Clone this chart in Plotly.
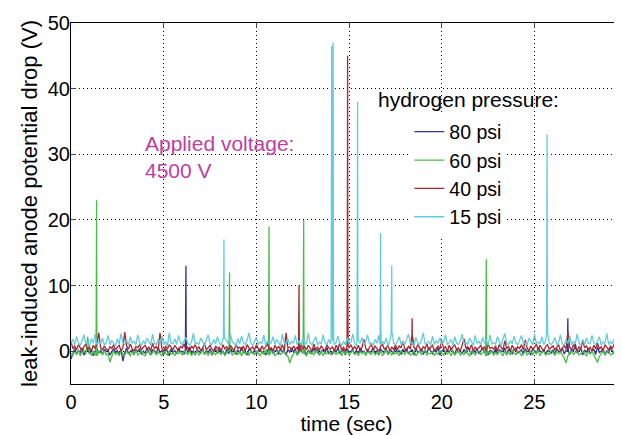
import plotly.graph_objects as go

# ---------------- data ----------------
dt = 0.1  # baseline sampling step (s)

base_80 = [
    -1.2, -0.3, 0.4, -0.5, 0.1, -0.2, 0.5, -0.6, 0.0, 0.3, -0.4, 0.2, -0.7, 0.0, 0.4, -0.3, 0.1, -0.5, 0.3, -0.1,
    0.2, -0.6, 0.0, 0.4, -0.3, 0.1, -0.5, 0.3, -1.5, -0.2, 0.5, -0.4, 0.0, 0.2, -0.6, 0.3, -0.1, 0.4, -0.5, 0.0,
    -0.3, 0.5, -0.1, -0.6, 0.2, 0.0, -0.4, 0.6, -0.2, 0.1, -0.5, 0.3, 0.0, -0.7, 0.4, -0.2, 0.1, -0.4, 0.5, -0.1,
    0.0, -0.5, 0.3, -0.2, 0.6, -0.4, 0.1, -0.6, 0.2, 0.0, -0.3, 0.5, -0.5, 0.1, -0.2, 0.4, -0.6, 0.0, 0.3, -0.3,
    0.4, -0.2, 0.0, -0.6, 0.3, -0.4, 0.5, -0.1, 0.0, -0.5, 0.2, -0.3, 0.6, -0.2, 0.0, -0.6, 0.3, 0.1, -0.4, 0.2,
    -0.5, 0.1, 0.4, -0.3, 0.0, -0.6, 0.3, -0.2, 0.5, -0.4, 0.0, 0.2, -0.5, 0.4, -0.1, 0.0, -0.6, 0.3, -0.2, 0.5,
    -0.1, 0.3, -0.5, 0.0, 0.4, -0.3, 0.2, -0.6, 0.1, 0.0, -0.4, 0.5, -0.2, 0.3, -0.6, 0.0, 0.2, -0.4, 0.6, -0.3,
    0.0, -0.5, 0.3, -0.1, 0.5, -0.4, 0.0, 0.2, -0.6, 0.4, -0.2, 0.0, 0.3, -0.5, 0.1, -0.3, 0.5, -0.1, 0.0, -0.6,
    0.3, -0.2, 0.0, 0.5, -0.4, 0.1, -0.6, 0.3, 0.0, -0.3, 0.4, -0.5, 0.2, 0.0, -0.4, 0.6, -0.2, 0.1, -0.5, 0.3,
    -0.1, 0.4, -0.4, 0.0, 0.2, -0.6, 0.5, -0.2, 0.0, 0.3, -0.5, 0.1, -0.3, 0.6, 0.0, -0.4, 0.2, -0.1, 0.5, -0.6,
    0.0, 0.3, -0.5, 0.2, -0.2, 0.5, 0.0, -0.6, 0.4, -0.1, 0.0, -0.4, 0.3, -0.3, 0.6, 0.0, -0.5, 0.2, -0.2, 0.4,
    -0.4, 0.0, 0.5, -0.2, 0.3, -0.6, 0.1, 0.0, -0.3, 0.4, -0.5, 0.2, 0.0, -0.1, 0.5, -0.6, 0.3, 0.0, -0.4, 0.2,
    0.5, -0.3, 0.0, 0.2, -0.5, 0.4, -0.1, 0.0, -0.6, 0.3, 0.1, -0.4, 0.6, 0.0, -0.2, 0.3, -0.5, 0.1, 0.0, -0.3,
    0.2, -0.6, 0.4, 0.0, -0.2, 0.5, -0.4, 0.1, 0.0, -0.5, 0.3, -0.1, 1.2, -0.3, 0.0, 0.4, -0.6, 0.2, -0.2, 0.5,
    -0.4, 0.0, 0.3, -0.5, 0.6, -0.2, 0.0, 0.4, -0.6, 0.1, -0.3, 0.5, 0.0, -0.4, 0.2, -0.1, 0.3, -0.5, 0.0, 0.4,
]

base_60 = [
    -0.3, -0.6, 0.0, -0.4, 0.2, -0.7, -0.2, 0.1, -0.5, 2.2, -0.3, -0.6, 0.0, -0.4, -0.7, 0.0, -0.2, -0.5, 0.1, -0.6,
    -0.3, -1.7, -0.8, 0.0, -0.5, -0.2, -0.7, 0.1, -0.4, -0.6, 0.0, -0.3, -0.7, -0.1, -0.5, 0.2, -0.6, -0.3, 0.0, -0.5,
    -0.7, -0.2, 0.0, -0.5, -0.3, 0.2, -0.6, -0.1, -0.4, -0.7, 0.0, -0.3, -0.6, 0.1, -0.5, -0.2, -0.7, 0.0, -0.4, -0.1,
    -0.6, 0.0, -0.3, -0.5, 0.1, -0.7, -0.2, -0.4, 0.0, -0.6, -0.3, 0.2, -0.5, -0.1, -0.7, 0.0, -0.4, -0.2, -0.6, 0.1,
    -0.3, -0.5, 0.0, -0.7, -0.2, -0.4, 0.1, -0.6, -0.3, 0.0, -0.5, -0.1, -0.7, 0.2, -0.4, -0.2, -0.6, 0.0, -0.3, -0.5,
    0.0, -0.4, -0.7, -0.1, -0.5, 0.2, -0.3, -0.6, 0.0, -0.2, -0.7, -0.4, 0.1, -0.5, -0.3, 0.0, -0.6, -0.8, -1.8, -0.9,
    -0.4, 0.0, -0.6, -0.2, 0.1, -0.5, -0.3, -0.7, 0.0, -0.4, -0.1, -0.6, 0.2, -0.3, -0.5, 0.0, -0.7, -0.2, -0.4, 0.1,
    -0.6, -0.2, 0.0, -0.5, -0.3, 0.2, -0.7, -0.1, -0.4, 0.0, -0.6, -0.3, 0.1, -0.5, -0.2, -0.7, 0.0, -0.4, -0.1, -0.6,
    0.0, -0.3, -0.5, 0.1, -0.6, -0.2, -0.4, 0.0, -0.7, -0.3, 0.2, -0.5, -0.1, -0.6, 0.0, -0.4, -0.2, -0.7, 0.1, -0.3,
    -0.5, 0.0, -0.2, -0.6, -0.4, 0.1, -0.7, -0.3, 0.0, -0.5, -0.1, 0.2, -0.6, -0.3, -0.4, 0.0, -0.7, -0.2, -0.5, 0.1,
    -0.3, -0.6, 0.0, -0.4, -0.1, -0.7, 0.2, -0.5, -0.2, 0.0, -0.6, -0.3, -0.5, 0.1, -0.4, -0.7, 0.0, -0.2, -0.6, -0.1,
    0.0, -0.5, -0.3, 0.2, -0.7, -0.1, -0.4, 0.0, -0.6, -0.2, -0.5, 0.1, -0.3, -0.7, 0.0, -0.4, -0.1, -0.6, 0.2, -0.3,
    -0.5, 0.0, -0.2, -0.7, -0.4, 0.1, -0.6, -0.3, 0.0, -0.5, -0.1, -0.4, 0.2, -0.7, -0.2, 0.0, -0.6, -0.3, -0.5, 0.1,
    -0.2, -0.6, 0.0, -0.4, -0.1, -0.5, -1.0, -1.8, -0.7, -0.3, 0.0, -0.5, -0.2, 0.1, -0.6, -0.4, 0.0, -0.3, -0.7, -0.1,
    -0.4, 0.0, -0.6, -1.2, -1.7, -0.8, -0.3, 0.0, -0.5, -0.2, 0.1, -0.6, -0.4, 0.0, -0.3, -0.7, -0.1, -0.5, 0.0, -0.4,
]

base_40 = [
    1.5, 0.4, 0.8, 0.2, 1.0, 0.5, 0.0, 0.7, 1.1, 0.3, 0.6, 0.0, 0.9, 0.4, 1.2, 2.8, 0.5, 0.2, 0.8, 0.3,
    0.0, 0.7, 0.4, 1.0, 0.2, 0.6, 0.9, 0.0, 0.5, 2.9, 0.8, 0.3, 1.1, 0.4, 0.0, 0.7, 0.5, 1.0, 0.2, 0.6,
    0.9, 0.3, 0.6, 0.0, 1.2, 0.4, 0.7, 0.2, 2.8, 0.5, 0.0, 0.8, 0.3, 1.0, 0.6, 0.2, 0.9, 0.4, 0.0, 0.7,
    0.5, 1.1, 0.2, 0.6, 0.0, 0.8, 0.4, 1.0, 0.3, 0.7, 0.0, 0.5, 1.2, 0.2, 0.6, 0.9, 0.3, 0.0, 0.8, 0.4,
    0.6, 0.0, 1.0, 0.3, 0.7, 0.2, 0.9, 0.5, 0.0, 1.1, 0.4, 0.6, 0.2, 0.8, 0.0, 1.0, 0.5, 0.3, 0.7, 0.2,
    1.0, 0.4, 0.0, 0.8, 0.3, 0.6, 1.2, 0.2, 0.5, 0.0, 0.9, 0.4, 0.7, 0.3, 1.0, 0.0, 2.8, 0.5, 0.6, 0.2,
    0.8, 0.3, 0.6, 0.0, 1.0, 0.4, 0.7, 0.2, 0.9, 0.5, 0.0, 1.1, 0.3, 0.6, 0.2, 0.8, 0.4, 0.0, 1.0, 0.5,
    0.3, 0.7, 0.0, 0.9, 0.4, 1.2, 0.2, 0.6, 0.0, 0.8, 0.5, 1.0, 0.3, 0.7, 0.2, 0.9, 0.0, 0.6, 1.8, 0.4,
    0.0, 0.6, 1.0, 0.2, 0.8, 0.4, 0.0, 0.7, 1.1, 0.3, 0.5, 0.9, 0.0, 0.6, 0.3, 1.0, 0.2, 0.8, 0.5, 1.5,
    0.4, 0.0, 0.8, 0.3, 2.2, 0.6, 0.2, 1.0, 0.5, 0.0, 0.7, 0.4, 1.1, 0.2, 0.6, 0.9, 0.0, 0.5, 0.8, 0.3,
    1.6, 0.4, 0.7, 0.0, 0.9, 0.3, 0.6, 1.0, 0.2, 0.5, 0.0, 0.8, 1.9, 0.4, 0.7, 0.2, 1.0, 0.0, 0.6, 0.3,
    0.5, 0.9, 0.2, 0.7, 0.0, 1.1, 0.4, 0.6, 0.3, 0.8, 0.0, 1.0, 0.5, 0.2, 1.6, 0.4, 0.7, 0.0, 0.9, 0.3,
    0.0, 0.7, 0.4, 1.0, 0.2, 1.7, 0.5, 0.0, 0.8, 0.3, 0.6, 1.1, 0.2, 0.9, 0.4, 0.0, 0.7, 1.0, 0.3, 0.5,
    0.8, 0.2, 0.6, 1.0, 0.0, 0.5, 0.9, 0.3, 2.9, 0.6, 0.2, 1.0, 0.4, 0.0, 0.7, 0.3, 1.7, 0.5, 0.8, 0.2,
    0.6, 0.0, 0.9, 0.4, 1.2, 0.3, 0.7, 0.0, 1.0, 0.5, 0.2, 0.8, 0.4, 1.1, 0.0, 0.6, 0.9, 0.3, 0.7, 0.2,
]

base_15 = [
    1.2, 1.8, 1.0, 2.2, 1.3, 0.9, 1.6, 2.5, 1.1, 1.4, 0.8, 1.9, 1.2, 2.6, 1.0, 1.5, 1.1, 2.0, 0.9, 1.3,
    2.4, 1.0, 1.6, 1.2, 0.8, 1.9, 1.1, 2.7, 1.3, 1.0, 1.7, 0.9, 2.2, 1.2, 1.5, 1.0, 2.5, 1.3, 0.9, 1.6,
    1.1, 2.0, 1.4, 0.9, 2.6, 1.2, 1.0, 1.8, 1.3, 2.3, 1.0, 1.5, 0.8, 2.8, 1.2, 1.1, 1.9, 1.0, 2.4, 1.3,
    1.0, 1.6, 2.1, 1.2, 0.9, 1.4, 2.7, 1.1, 1.3, 1.0, 2.0, 1.5, 0.8, 1.7, 2.5, 1.2, 1.0, 1.8, 1.1, 2.2,
    1.3, 0.9, 2.0, 1.1, 1.6, 1.0, 2.6, 1.4, 1.2, 0.8, 1.9, 1.1, 2.3, 1.3, 1.0, 1.7, 2.8, 1.2, 0.9, 1.5,
    2.1, 1.0, 1.4, 1.2, 2.5, 0.9, 1.6, 1.1, 1.3, 2.2, 1.0, 1.8, 1.2, 0.8, 2.6, 1.3, 1.1, 1.9, 1.0, 1.5,
    1.2, 2.4, 1.0, 1.6, 0.9, 2.0, 1.3, 1.1, 2.7, 1.2, 1.0, 1.5, 2.2, 0.9, 1.4, 1.1, 2.5, 1.3, 1.0, 1.8,
    1.1, 1.6, 1.0, 1.3, 2.3, 1.2, 0.9, 1.5, 1.0, 2.0, 1.2, 1.4, 2.6, 1.1, 0.9, 1.7, 1.2, 2.1, 1.0, 1.5,
    2.5, 1.1, 1.3, 0.9, 1.8, 1.2, 2.4, 1.0, 1.5, 1.1, 2.0, 0.8, 1.6, 2.7, 1.2, 1.0, 1.4, 2.2, 1.1, 1.3,
    1.0, 1.9, 2.6, 1.2, 1.4, 0.9, 2.1, 1.3, 1.0, 1.7, 2.8, 1.1, 1.2, 1.5, 0.9, 2.3, 1.0, 1.6, 1.2, 2.0,
    1.1, 1.4, 2.5, 1.0, 1.3, 1.8, 0.9, 2.2, 1.2, 1.0, 1.6, 2.6, 1.1, 1.4, 1.0, 2.0, 1.3, 0.9, 2.4, 1.2,
    1.5, 1.0, 2.1, 1.2, 1.7, 0.9, 2.5, 1.1, 1.3, 1.0, 2.2, 1.4, 0.8, 1.9, 2.7, 1.2, 1.0, 1.6, 1.1, 2.3,
    1.2, 1.0, 1.8, 2.4, 1.1, 1.3, 0.9, 2.0, 1.5, 1.0, 2.6, 1.2, 1.4, 1.1, 2.2, 1.0, 1.6, 2.8, 1.2, 1.0,
    1.4, 2.1, 1.0, 1.3, 2.5, 1.1, 0.9, 1.7, 1.2, 2.3, 1.0, 1.5, 1.1, 2.6, 1.3, 0.9, 1.8, 1.0, 2.0, 1.2,
    1.1, 2.4, 1.3, 1.0, 1.6, 2.2, 0.9, 1.4, 1.2, 2.7, 1.0, 1.5, 1.1, 1.9, 2.3, 1.2, 1.0, 1.6, 1.3, 2.0,
]

# spikes: (time s, intermediate sample V, peak V)
spikes_80 = [(6.2, 7.0, 13.0), (26.8, 2.5, 5.0)]
spikes_60 = [(1.38, 11.0, 23.0), (8.55, 5.5, 12.0), (10.68, 10.0, 19.0),
             (12.55, 10.0, 20.0), (22.4, 6.5, 14.0)]
spikes_40 = [(12.3, 5.0, 10.0), (14.92, 23.0, 45.0), (18.4, 2.5, 5.0)]
spikes_15 = [(8.25, 9.0, 17.0), (14.06, 24.0, 46.5), (14.14, 24.0, 47.0),
             (15.46, 19.0, 38.0), (16.7, 9.0, 18.0), (17.3, 6.5, 13.0),
             (25.68, 16.5, 33.0)]

series_names = ["80 psi", "60 psi", "40 psi", "15 psi"]
series_base = [base_80, base_60, base_40, base_15]
series_spikes = [spikes_80, spikes_60, spikes_40, spikes_15]
series_colors = ["#34348e", "#48bd48", "#a8282e", "#62cbdc"]

x_ticks = [0, 5, 10, 15, 20, 25]
y_ticks = [0, 10, 20, 30, 40, 50]


def build(base, spikes):
    pts = []
    for i, v in enumerate(base):
        t = i * dt
        if all(abs(t - s[0]) >= 0.06 for s in spikes):
            pts.append((t, v))
    for ts, mid, peak in spikes:
        b0 = base[min(len(base) - 1, int(round(ts / dt)))]
        pts.append((ts - 0.03, b0))
        pts.append((ts - 0.012, mid))
        pts.append((ts, peak))
        pts.append((ts + 0.012, mid * 0.4))
        pts.append((ts + 0.03, b0))
    pts.sort()
    return [p[0] for p in pts], [p[1] for p in pts]


fig = go.Figure()
for name, base, spk, col in zip(series_names, series_base, series_spikes, series_colors):
    xs, ys = build(base, spk)
    fig.add_trace(go.Scatter(x=xs, y=ys, mode="lines", name=name,
                             line=dict(color=col, width=1.3)))

FONT = "Liberation Sans, Arial, sans-serif"

fig.add_annotation(x=3.88, y=29.6, xref="x", yref="y", xanchor="left", yanchor="middle",
                   align="left", showarrow=False,
                   text="Applied voltage:<br>4500 V",
                   font=dict(family=FONT, size=21, color="#c03ca2"))

fig.add_annotation(x=0.5535, y=0.787, xref="paper", yref="paper", xanchor="left",
                   yanchor="middle", showarrow=False, text="hydrogen pressure:",
                   font=dict(family=FONT, size=21, color="black"))

# the page body adds an 8 px offset, so the figure is sized to end at the window edge
fig.update_layout(
    width=614, height=427,
    margin=dict(l=63, r=0, t=15, b=51),
    paper_bgcolor="white", plot_bgcolor="white",
    font=dict(family=FONT, size=20, color="black"),
    showlegend=True,
    legend=dict(x=0.614, y=0.752, xanchor="left", yanchor="top",
                bgcolor="white", borderwidth=0,
                font=dict(family=FONT, size=19.5, color="black")),
    xaxis=dict(range=[0, 29.72], tickvals=x_ticks, ticks="inside", ticklen=5,
               showline=True, linecolor="black", linewidth=1, mirror="ticks",
               showgrid=True, gridcolor="black", griddash="1px,3px", gridwidth=1,
               zeroline=False, tickfont=dict(size=20),
               title=dict(text="time (sec)", font=dict(size=21), standoff=4)),
    yaxis=dict(range=[-5, 50], tickvals=y_ticks, ticks="inside", ticklen=5,
               showline=True, linecolor="black", linewidth=1, mirror=False,
               showgrid=True, gridcolor="black", griddash="1px,3px", gridwidth=1,
               zeroline=False, tickfont=dict(size=20), ticklabelstandoff=-4,
               title=dict(text="leak-induced anode potential drop (V)",
                          font=dict(size=22), standoff=4)),
)

fig.write_html("out.html")
